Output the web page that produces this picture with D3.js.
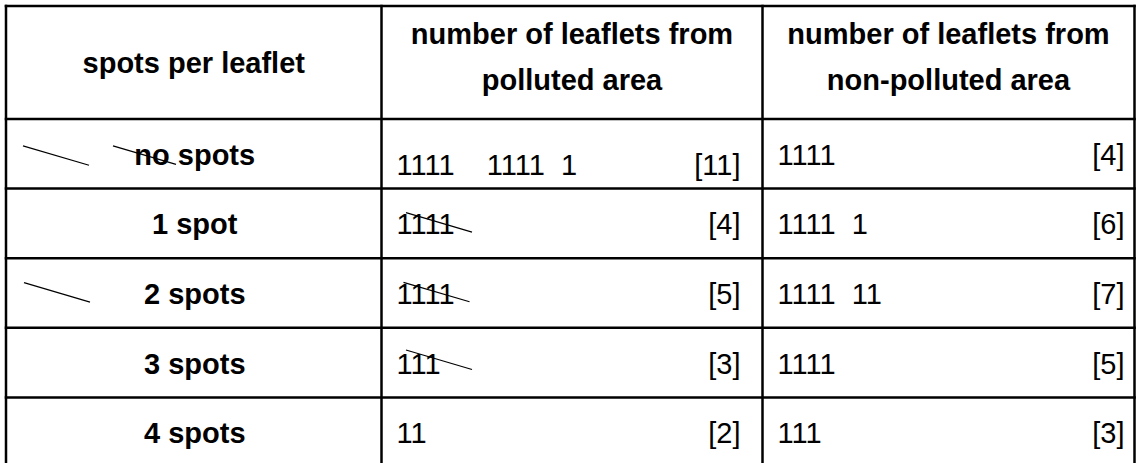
<!DOCTYPE html>
<html lang="en">
<head>
<meta charset="UTF-8">
<title>Spots per leaflet</title>
<script src="https://cdn.jsdelivr.net/npm/d3@7"></script>
<style>
  body { margin: 0; background: #fff; }
  svg text { font-family: "Liberation Sans", Arial, sans-serif; fill: #000; white-space: pre; }
</style>
</head>
<body>
<svg width="1136" height="463"></svg>
<script>
// table data
var headers = [
  ["spots per leaflet"],
  ["number of leaflets from", "polluted area"],
  ["number of leaflets from", "non-polluted area"]
];
var categories = ["no spots", "1 spot", "2 spots", "3 spots", "4 spots"];
var pollutedTally = ["1111    1111  1", "1111", "1111", "111", "11"];
var pollutedCounts = [11, 4, 5, 3, 2];
var cleanTally = ["1111", "1111  1", "1111  11", "1111", "111"];
var cleanCounts = [4, 6, 7, 5, 3];

var svg = d3.select("svg"),
    width = +svg.attr("width"),
    height = +svg.attr("height");

var tableTop = 6, headBottom = 119;
var colEdges = [6, 381.5, 762.5, 1134.5];
var fs = 29;

var y = d3.scaleBand()
  .domain(d3.range(categories.length))
  .range([headBottom, headBottom + 69.6 * categories.length]);

function cx(c) { return (colEdges[c] + colEdges[c + 1]) / 2; }
function cy(r) { return y(r) + y.bandwidth() / 2; }

// grid lines
var g = svg.append("g").attr("stroke", "#000").attr("stroke-width", 2.5);
g.selectAll("line.v").data(colEdges).join("line")
  .attr("x1", d => d).attr("x2", d => d)
  .attr("y1", tableTop - 1.25).attr("y2", height + 5);
g.selectAll("line.h").data([tableTop].concat(categories.map((d, i) => y(i)))).join("line")
  .attr("x1", colEdges[0] - 1.25).attr("x2", colEdges[3] + 1.25)
  .attr("y1", d => d).attr("y2", d => d);

// headers
var headMid = (tableTop + headBottom) / 2;
headers.forEach(function(lines, c) {
  svg.append("g").selectAll("text").data(lines).join("text")
    .attr("x", cx(c))
    .attr("y", (d, i) => lines.length == 1 ? headMid + 10.5 : headMid - 18.5 + i * 46)
    .attr("text-anchor", "middle")
    .attr("font-weight", "bold")
    .attr("font-size", fs)
    .text(d => d);
});

// category labels
svg.append("g").selectAll("text").data(categories).join("text")
  .attr("x", cx(0) + 1)
  .attr("y", (d, i) => cy(i) + 11)
  .attr("text-anchor", "middle")
  .attr("font-weight", "bold")
  .attr("font-size", fs)
  .text(d => d);

// tallies and counts
function column(c, tally, counts, rightPad) {
  var col = svg.append("g");
  col.selectAll("text.tally").data(tally).join("text")
    .attr("class", "tally")
    .attr("xml:space", "preserve")
    .attr("x", colEdges[c] + 15)
    .attr("y", (d, i) => cy(i) + 11 + (c == 1 && i == 0 ? 10 : 0))
    .attr("font-size", fs)
    .text(d => d);
  col.selectAll("text.count").data(counts).join("text")
    .attr("class", "count")
    .attr("x", colEdges[c + 1] - rightPad)
    .attr("y", (d, i) => cy(i) + 11 + (c == 1 && i == 0 ? 10 : 0))
    .attr("text-anchor", "end")
    .attr("font-size", fs)
    .text(d => "[" + d + "]");
}
column(1, pollutedTally, pollutedCounts, 22);
column(2, cleanTally, cleanCounts, 10);

// hand-drawn crossing-out strokes
var strikes = [
  {row: 0, col: 0, dx: 17, dy: -8, len: 66},
  {row: 0, col: 0, dx: 107, dy: -8, len: 63},
  {row: 2, col: 0, dx: 18, dy: -10.3, len: 66},
  {row: 1, col: 1, dx: 24.5, dy: -10.7, len: 66},
  {row: 2, col: 1, dx: 22, dy: -10.7, len: 66},
  {row: 3, col: 1, dx: 24.5, dy: -12.6, len: 66}
];
svg.append("g").attr("stroke", "#000").attr("stroke-width", 1.2)
  .selectAll("line").data(strikes).join("line")
  .attr("x1", d => colEdges[d.col] + d.dx)
  .attr("y1", d => cy(d.row) + d.dy)
  .attr("x2", d => colEdges[d.col] + d.dx + d.len)
  .attr("y2", d => cy(d.row) + d.dy + d.len * 0.295);
</script>
</body>
</html>
